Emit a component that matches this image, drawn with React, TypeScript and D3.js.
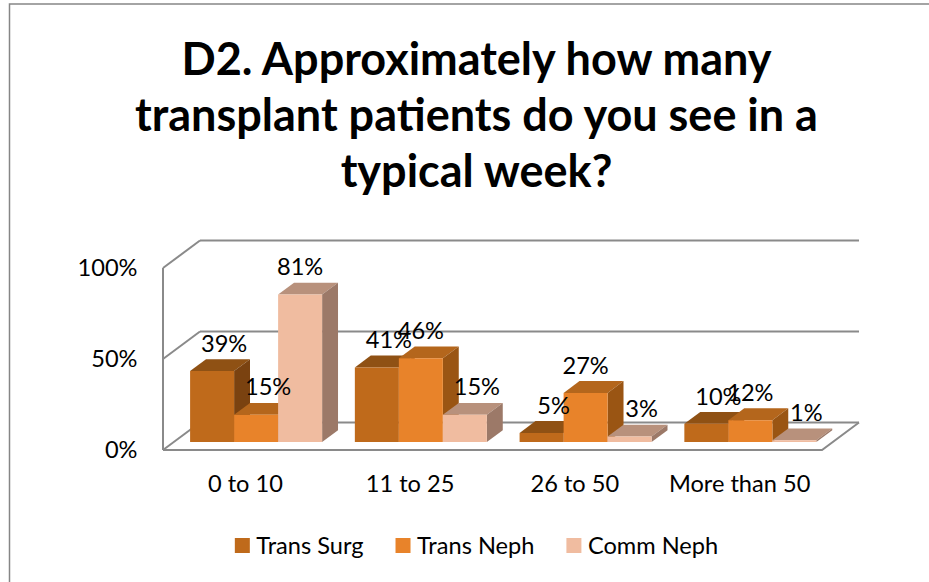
import React, { useEffect, useRef } from 'react';
import * as d3 from 'd3';

const categories = ['0 to 10', '11 to 25', '26 to 50', 'More than 50'];
const seriesNames = ['Trans Surg', 'Trans Neph', 'Comm Neph'];
const transSurg = [39, 41, 5, 10];
const transNeph = [15, 46, 27, 12];
const commNeph = [81, 15, 3, 1];
const yTicks = [0, 50, 100];
const titleLines = [
  'D2. Approximately how many',
  'transplant patients do you see in a',
  'typical week?',
];

const frontColors = ['#BF6A1B', '#E8832A', '#F0BCA0'];
const topColors = ['#8F5114', '#B4661C', '#B8917C'];
const sideColors = ['#7A4210', '#9A5513', '#9C7968'];

export default function App() {
  const ref = useRef<SVGSVGElement | null>(null);

  useEffect(() => {
    const svg = d3.select(ref.current);
    svg.selectAll('*').remove();

    const W = 929;
    const H = 582;
    const cx = 476.5;
    const font = 'Lato, "Open Sans", sans-serif';
    const small = 23.6;
    const gridColor = '#8a8a8a';

    const X0 = 163;
    const X1 = 822;
    const dX = 37;
    const dY = -27.5;
    const zf = 0.29;
    const zb = 0.72;

    const values = [transSurg, transNeph, commNeph];

    svg.append('rect').attr('width', W).attr('height', H).attr('fill', '#fff');
    svg
      .append('rect')
      .attr('x', 9.5)
      .attr('y', 4)
      .attr('width', 1200)
      .attr('height', 1200)
      .attr('fill', 'none')
      .attr('stroke', '#868686')
      .attr('stroke-width', 1.5);

    // title
    const title = svg
      .append('text')
      .attr('text-anchor', 'middle')
      .attr('font-family', font)
      .attr('font-weight', 700)
      .attr('font-size', 45)
      .attr('fill', '#000');
    const titleBase = [75, 131, 187];
    titleLines.forEach((t, i) => {
      title.append('tspan').attr('x', cx).attr('y', titleBase[i]).text(t);
    });

    const x0 = d3.scaleBand<string>().domain(categories).range([X0, X1]).padding(0);
    const x1 = d3
      .scaleBand<string>()
      .domain(seriesNames)
      .range([0, x0.bandwidth()])
      .paddingInner(0)
      .paddingOuter(0.372);
    const y = d3.scaleLinear().domain([0, 100]).range([450, 268]);

    const proj = (x: number, v: number, z: number): [number, number] => [
      x + dX * z,
      y(v) + dY * z,
    ];
    const poly = (pts: [number, number][]) => 'M' + pts.map((p) => p.join(',')).join('L') + 'Z';

    const g = svg.append('g');

    // floor
    g.append('path')
      .attr('d', poly([proj(X0, 0, 0), proj(X1, 0, 0), proj(X1, 0, 1), proj(X0, 0, 1)]))
      .attr('fill', '#fff')
      .attr('stroke', 'none');

    // back wall gridlines and side-wall diagonals
    yTicks.forEach((t) => {
      const a = proj(X0, t, 1);
      const b = proj(X1, t, 1);
      g.append('line')
        .attr('x1', a[0]).attr('y1', a[1]).attr('x2', b[0]).attr('y2', b[1])
        .attr('stroke', gridColor).attr('stroke-width', 2);
      const c = proj(X0, t, 0);
      g.append('line')
        .attr('x1', c[0]).attr('y1', c[1]).attr('x2', a[0]).attr('y2', a[1])
        .attr('stroke', gridColor).attr('stroke-width', 2);
    });
    // side wall front edge
    {
      const a = proj(X0, 0, 0);
      const b = proj(X0, 100, 0);
      g.append('line')
        .attr('x1', a[0]).attr('y1', a[1]).attr('x2', b[0]).attr('y2', b[1])
        .attr('stroke', gridColor).attr('stroke-width', 2);
    }
    // floor front and right edges
    {
      const a = proj(X0, 0, 0);
      const b = proj(X1, 0, 0);
      const c = proj(X1, 0, 1);
      g.append('path')
        .attr('d', 'M' + a.join(',') + 'L' + b.join(',') + 'L' + c.join(','))
        .attr('fill', 'none')
        .attr('stroke', gridColor)
        .attr('stroke-width', 2);
    }

    // bars
    categories.forEach((cat, ci) => {
      seriesNames.forEach((s, si) => {
        const v = values[si][ci];
        const xl = (x0(cat) as number) + (x1(s) as number);
        const xr = xl + x1.bandwidth();
        g.append('path')
          .attr('d', poly([proj(xl, v, zf), proj(xr, v, zf), proj(xr, v, zb), proj(xl, v, zb)]))
          .attr('fill', topColors[si]);
        g.append('path')
          .attr('d', poly([proj(xr, 0, zf), proj(xr, v, zf), proj(xr, v, zb), proj(xr, 0, zb)]))
          .attr('fill', sideColors[si]);
        g.append('path')
          .attr('d', poly([proj(xl, 0, zf), proj(xr, 0, zf), proj(xr, v, zf), proj(xl, v, zf)]))
          .attr('fill', frontColors[si]);
      });
    });

    // data labels
    categories.forEach((cat, ci) => {
      seriesNames.forEach((s, si) => {
        const v = values[si][ci];
        const prev = si > 0 ? values[si - 1][ci] : Infinity;
        const shift = v < prev ? 12 : 0;
        const xl = (x0(cat) as number) + (x1(s) as number);
        const xc = xl + x1.bandwidth() / 2 + dX * zf + shift;
        const yb = y(v) + dY * zb - 7.5;
        g.append('text')
          .attr('x', xc)
          .attr('y', yb)
          .attr('text-anchor', 'middle')
          .attr('font-family', font)
          .attr('font-size', small)
          .attr('fill', '#000')
          .text(`${v}%`);
      });
    });

    // y axis labels
    yTicks.forEach((t) => {
      g.append('text')
        .attr('x', 137.5)
        .attr('y', y(t) + 0.7165 * small / 2)
        .attr('text-anchor', 'end')
        .attr('font-family', font)
        .attr('font-size', small)
        .attr('fill', '#000')
        .text(`${t}%`);
    });

    // category labels
    categories.forEach((cat) => {
      g.append('text')
        .attr('x', (x0(cat) as number) + x0.bandwidth() / 2)
        .attr('y', 492)
        .attr('text-anchor', 'middle')
        .attr('font-family', font)
        .attr('font-size', small)
        .attr('fill', '#000')
        .text(cat);
    });

    // legend
    const lg = svg.append('g');
    const sq = 15;
    const gap = 6.5;
    const itemGap = 32;
    const items = seriesNames.map((s, i) => {
      const it = lg.append('g');
      it.append('rect').attr('width', sq).attr('height', sq).attr('y', 538).attr('fill', frontColors[i]);
      const tx = it
        .append('text')
        .attr('x', sq + gap)
        .attr('y', 554)
        .attr('font-family', font)
        .attr('font-size', small)
        .attr('fill', '#000')
        .text(s);
      const w = (tx.node() as SVGTextElement).getComputedTextLength();
      return { it, w: sq + gap + w };
    });
    const total = d3.sum(items, (d) => d.w) + itemGap * (items.length - 1);
    let xs = cx - total / 2;
    items.forEach((d) => {
      d.it.attr('transform', `translate(${xs},0)`);
      xs += d.w + itemGap;
    });
  }, []);

  return (
    <svg
      ref={ref}
      width={929}
      height={582}
      style={{ position: 'absolute', left: 0, top: 0, display: 'block' }}
    />
  );
}
